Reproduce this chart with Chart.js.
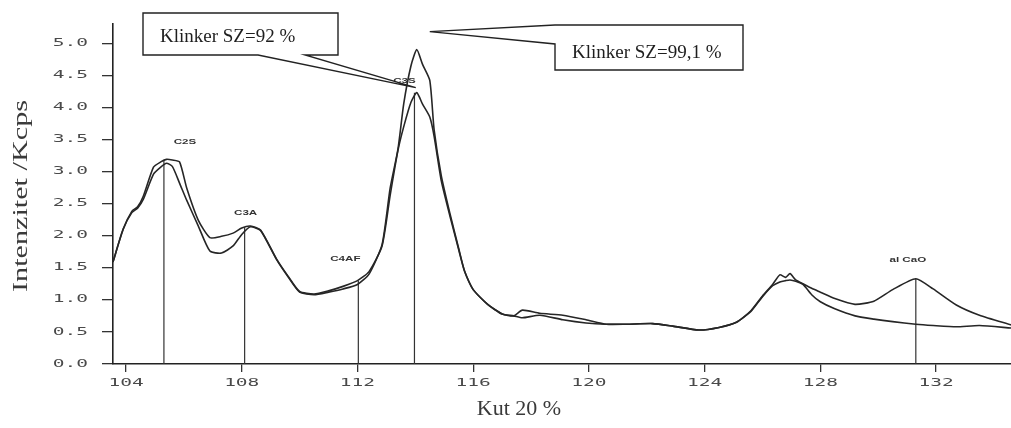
<!DOCTYPE html>
<html><head><meta charset="utf-8">
<script src="https://cdn.jsdelivr.net/npm/chart.js@4.4.1/dist/chart.umd.min.js"></script>
<style>html,body{margin:0;padding:0;background:#fff;}canvas{display:block;}</style>
</head><body>
<canvas id="c" width="1011" height="428"></canvas>
<script>
// ---- data ----
const angles = [103.55,103.9,104.2,104.4,104.6,104.95,105.2,105.4,105.6,105.85,106.1,106.5,106.9,107.3,107.7,108.0,108.3,108.65,109.2,109.6,110.0,110.5,111.0,111.5,112.0,112.4,112.85,113.13,113.4,113.6,113.85,114.05,114.25,114.5,114.65,114.9,115.2,115.5,115.7,116.0,116.5,117.0,117.4,117.7,118.3,119.1,119.9,120.6,121.3,122.2,122.9,123.8,124.5,125.1,125.6,126.0,126.35,126.6,126.8,126.95,127.15,127.4,127.7,128.0,128.5,129.2,129.85,130.5,131.3,131.9,132.7,133.5,134.59];
const klinker991 = [1.59,2.10,2.36,2.43,2.57,2.96,3.07,3.13,3.08,2.82,2.55,2.15,1.76,1.73,1.84,2.02,2.14,2.08,1.63,1.36,1.12,1.08,1.12,1.17,1.24,1.40,1.86,2.74,3.35,4.06,4.65,4.90,4.67,4.42,3.65,2.93,2.34,1.80,1.45,1.16,0.93,0.78,0.75,0.72,0.76,0.69,0.64,0.62,0.62,0.63,0.59,0.53,0.57,0.65,0.83,1.06,1.24,1.39,1.35,1.41,1.31,1.25,1.18,1.12,1.02,0.93,0.98,1.16,1.33,1.17,0.92,0.76,0.61];
const klinker92  = [1.59,2.10,2.38,2.45,2.62,3.07,3.15,3.19,3.18,3.15,2.74,2.24,1.97,1.99,2.04,2.12,2.15,2.09,1.64,1.37,1.13,1.09,1.14,1.21,1.30,1.44,1.84,2.63,3.33,3.70,4.08,4.23,4.05,3.85,3.55,2.85,2.30,1.78,1.45,1.16,0.93,0.78,0.75,0.84,0.79,0.76,0.69,0.62,0.62,0.63,0.59,0.53,0.57,0.65,0.82,1.05,1.22,1.28,1.30,1.31,1.29,1.24,1.08,0.97,0.86,0.75,0.70,0.66,0.62,0.60,0.58,0.60,0.56];
const seriesNames = ['Klinker SZ=99,1 %','Klinker SZ=92 %'];
const peakNames  = ['C2S','C3A','C4AF','C3S','al CaO'];
const peakAngles = [105.31,108.1,112.03,113.97,131.3];
const peakTops   = [3.18,2.13,1.30,4.23,1.33];
const yTicks = [0,0.5,1,1.5,2,2.5,3,3.5,4,4.5,5];
const yTickLabels = ['0.0','0.5','1.0','1.5','2.0','2.5','3.0','3.5','4.0','4.5','5.0'];
const xTicks = [104,108,112,116,120,124,128,132];
const xTickLabels = ['104','108','112','116','120','124','128','132'];
const xTitle = 'Kut 20 %';
const yTitle = 'Intenzitet /Kcps';

// ---- layout / style (not data) ----
const peakLabelOffsets = [[21,-18],[1,-15],[-13,-22],[-10,-12],[-8,-19]];
const SERIF = '"Liberation Serif", "Times New Roman", serif';
const MONO = '"DejaVu Sans Mono", monospace';

function sText(ctx, text, x, y, sx, align) {
  ctx.save(); ctx.translate(x, y); ctx.scale(sx, 1);
  ctx.textAlign = align; ctx.fillText(text, 0, 0); ctx.restore();
}

const decor = {
  id: 'decor',
  afterDraw(chart) {
    const ctx = chart.ctx, xs = chart.scales.x, ys = chart.scales.y, ca = chart.chartArea;
    ctx.save();
    // tick labels
    ctx.fillStyle = '#4a4a4a'; ctx.font = '10px ' + MONO; ctx.textBaseline = 'middle';
    yTicks.forEach((v, i) => sText(ctx, yTickLabels[i], 88, ys.getPixelForValue(v), 1.95, 'right'));
    xTicks.forEach((v, i) => sText(ctx, xTickLabels[i], xs.getPixelForValue(v), ca.bottom + 19, 1.95, 'center'));
    // axis titles
    ctx.fillStyle = '#3a3a3a'; ctx.font = '20px ' + SERIF;
    ctx.textBaseline = 'middle';
    const w = ctx.measureText(yTitle).width;
    ctx.save(); ctx.translate(22, (ca.top + ca.bottom) / 2 + 2); ctx.rotate(-Math.PI / 2);
    ctx.scale(192 / w, 1); ctx.textAlign = 'center'; ctx.fillText(yTitle, 0, 0); ctx.restore();
    ctx.textBaseline = 'alphabetic';
    sText(ctx, xTitle, 519, 415, 1.1, 'center');
    // peak labels
    ctx.fillStyle = '#333'; ctx.font = 'bold 8px "Liberation Sans", Arial, sans-serif';
    ctx.textBaseline = 'middle';
    peakNames.forEach((n, i) => {
      const px = xs.getPixelForValue(peakAngles[i]) + peakLabelOffsets[i][0];
      const py = ys.getPixelForValue(peakTops[i]) + peakLabelOffsets[i][1];
      sText(ctx, n, px, py, 1.45, 'center');
    });
    // callouts
    ctx.strokeStyle = '#222'; ctx.lineWidth = 1.4; ctx.fillStyle = '#fff';
    // box 1 (92 %) pointing at lower C3S peak
    const i92 = klinker92.indexOf(Math.max(...klinker92));
    const t1x = xs.getPixelForValue(angles[i92]) - 1, t1y = ys.getPixelForValue(klinker92[i92]) - 5;
    const b1 = {l: 143, t: 13, r: 338, b: 55};
    ctx.beginPath();
    ctx.moveTo(b1.l, b1.t); ctx.lineTo(b1.r, b1.t); ctx.lineTo(b1.r, b1.b);
    ctx.lineTo(305, b1.b); ctx.lineTo(t1x, t1y); ctx.lineTo(258, b1.b);
    ctx.lineTo(b1.l, b1.b); ctx.closePath(); ctx.fill(); ctx.stroke();
    // box 2 (99,1 %) pointing at upper C3S peak
    const i99 = klinker991.indexOf(Math.max(...klinker991));
    const t2x = xs.getPixelForValue(angles[i99]) + 13, t2y = ys.getPixelForValue(klinker991[i99]) - 18;
    const b2 = {l: 555, t: 25, r: 743, b: 70};
    ctx.beginPath();
    ctx.moveTo(b2.l, b2.t); ctx.lineTo(b2.r, b2.t); ctx.lineTo(b2.r, b2.b); ctx.lineTo(b2.l, b2.b);
    ctx.lineTo(b2.l, b2.t + 19); ctx.lineTo(t2x, t2y); ctx.closePath(); ctx.fill(); ctx.stroke();
    ctx.fillStyle = '#1e1e1e'; ctx.font = '19px ' + SERIF; ctx.textBaseline = 'alphabetic';
    sText(ctx, seriesNames[1], 160, 42, 1, 'left');
    sText(ctx, seriesNames[0], 572, 58, 1, 'left');
    ctx.restore();
  }
};

const datasets = [
  {label: seriesNames[0], data: angles.map((a, i) => ({x: a, y: klinker991[i]}))},
  {label: seriesNames[1], data: angles.map((a, i) => ({x: a, y: klinker92[i]}))}
].map(d => Object.assign(d, {borderColor: '#262626', borderWidth: 1.6, pointRadius: 0, tension: 0.2, fill: false}));
peakAngles.forEach((a, i) => datasets.push({
  label: peakNames[i], data: [{x: a, y: 0}, {x: a, y: peakTops[i]}],
  borderColor: '#333', borderWidth: 1.2, pointRadius: 0, tension: 0, fill: false
}));

new Chart(document.getElementById('c'), {
  type: 'line',
  data: {datasets},
  options: {
    responsive: false, animation: false, devicePixelRatio: 1, events: [],
    layout: {padding: {top: 24, right: 0, bottom: 0, left: 0}},
    plugins: {legend: {display: false}, tooltip: {enabled: false}},
    scales: {
      x: {
        type: 'linear', min: 103.55, max: 134.59,
        afterBuildTicks: s => { s.ticks = xTicks.map(v => ({value: v})); },
        afterFit: s => { s.height = 64; },
        grid: {drawOnChartArea: false, drawTicks: true, tickLength: 8, color: '#333', lineWidth: 1.3},
        border: {display: true, color: '#222', width: 1.6},
        ticks: {color: 'rgba(0,0,0,0)', autoSkip: false, maxRotation: 0, font: {size: 10}}
      },
      y: {
        type: 'linear', min: 0, max: 5.3,
        afterBuildTicks: s => { s.ticks = yTicks.map(v => ({value: v})); },
        afterFit: s => { s.width = 113; },
        grid: {drawOnChartArea: false, drawTicks: true, tickLength: 11, color: '#333', lineWidth: 1.3},
        border: {display: true, color: '#222', width: 1.6},
        ticks: {color: 'rgba(0,0,0,0)', font: {size: 10}}
      }
    }
  },
  plugins: [decor]
});
</script>
</body></html>
